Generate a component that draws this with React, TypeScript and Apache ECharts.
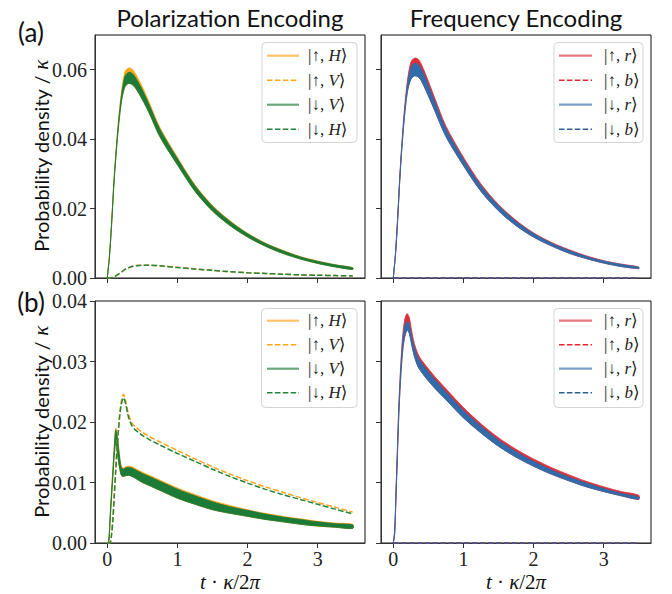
import React, { useEffect, useRef } from 'react';
import * as echarts from 'echarts';

// ---------- data ----------
const T_A = [0, 0.03, 0.06, 0.1, 0.15, 0.2, 0.25, 0.3, 0.35, 0.4, 0.5, 0.6, 0.75, 1.0, 1.25, 1.5, 1.75, 2.0, 2.25, 2.5, 2.75, 3.0, 3.25, 3.5];
const T_B = [0, 0.02, 0.04, 0.06, 0.08, 0.1, 0.12, 0.14, 0.16, 0.18, 0.2, 0.23, 0.26, 0.3, 0.35, 0.4, 0.5, 0.6, 0.75, 1.0, 1.25, 1.5, 1.75, 2.0, 2.25, 2.5, 2.75, 3.0, 3.25, 3.5];

// (a) Polarization encoding
const POL_A_DOWN_V_LO = [0, 0.0058, 0.0146, 0.0286, 0.0414, 0.0505, 0.0550, 0.0560, 0.0558, 0.0548, 0.0514, 0.0474, 0.0407, 0.0326, 0.0250, 0.0193, 0.0151, 0.0118, 0.0092, 0.0071, 0.0055, 0.0042, 0.0032, 0.00245];
const POL_A_DOWN_V_HI = [0, 0.0062, 0.0154, 0.0294, 0.0426, 0.0523, 0.0580, 0.0592, 0.0590, 0.0578, 0.0542, 0.0498, 0.0429, 0.0344, 0.0266, 0.0207, 0.0163, 0.0128, 0.0100, 0.0079, 0.0061, 0.0048, 0.0038, 0.00295];
const POL_A_UP_H_HI = [0, 0.0063, 0.0156, 0.0297, 0.0432, 0.0532, 0.0593, 0.0605, 0.0602, 0.0589, 0.0551, 0.0505, 0.0434, 0.0348, 0.0269, 0.0209, 0.0165, 0.0129, 0.0101, 0.0080, 0.0062, 0.0049, 0.0038, 0.0030];
const POL_A_UP_V = [0, 0, 0.0001, 0.0004, 0.0010, 0.0017, 0.0024, 0.0029, 0.0033, 0.0036, 0.0037, 0.0037, 0.0035, 0.0031, 0.0026, 0.0022, 0.0018, 0.0015, 0.0013, 0.0011, 0.0009, 0.0008, 0.0007, 0.0006];
const POL_A_DOWN_H = [0, 0, 0.0001, 0.0004, 0.0010, 0.0017, 0.0024, 0.0029, 0.0033, 0.0035, 0.0037, 0.0037, 0.0035, 0.0030, 0.0026, 0.0022, 0.0018, 0.0015, 0.0013, 0.0011, 0.0009, 0.0008, 0.0007, 0.0006];

// (a) Frequency encoding
const FRQ_A_DOWN_R_LO = [0, 0.0063, 0.0156, 0.0306, 0.0444, 0.0535, 0.0572, 0.0582, 0.0580, 0.0568, 0.0525, 0.0478, 0.0408, 0.0324, 0.0250, 0.0194, 0.0151, 0.0118, 0.0093, 0.0072, 0.0056, 0.0043, 0.0033, 0.0027];
const FRQ_A_DOWN_R_HI = [0, 0.0067, 0.0164, 0.0314, 0.0456, 0.0555, 0.0606, 0.0618, 0.0616, 0.0602, 0.0555, 0.0504, 0.0430, 0.0342, 0.0266, 0.0208, 0.0163, 0.0128, 0.0101, 0.0080, 0.0062, 0.0049, 0.0039, 0.0031];
const FRQ_A_UP_R_HI = [0, 0.0068, 0.0167, 0.0318, 0.0463, 0.0566, 0.0621, 0.0633, 0.0631, 0.0616, 0.0567, 0.0514, 0.0438, 0.0348, 0.0271, 0.0212, 0.0166, 0.0130, 0.0103, 0.0082, 0.0064, 0.0050, 0.0040, 0.0032];
const FRQ_DASH_T = [0, 3.5];
const FRQ_DASH_ZERO = [0, 0];

// (b) Polarization encoding
const POL_B_DOWN_V_LO = [0, 0, 0.0036, 0.0074, 0.0110, 0.0145, 0.0165, 0.0152, 0.0135, 0.0121, 0.0112, 0.0110, 0.0111, 0.0112, 0.0110, 0.0107, 0.0100, 0.0095, 0.0087, 0.0074, 0.0064, 0.0055, 0.0049, 0.0044, 0.0039, 0.0035, 0.0031, 0.0028, 0.0026, 0.0024];
const POL_B_DOWN_V_HI = [0, 0.0003, 0.0042, 0.0082, 0.0120, 0.0158, 0.0187, 0.0178, 0.0158, 0.0138, 0.0125, 0.0122, 0.0124, 0.0125, 0.0124, 0.0121, 0.0115, 0.0110, 0.0102, 0.0089, 0.0078, 0.0068, 0.0060, 0.0054, 0.0048, 0.0043, 0.0039, 0.0035, 0.0032, 0.0030];
const POL_B_UP_H_HI = [0, 0.0004, 0.0044, 0.0085, 0.0123, 0.0161, 0.0190, 0.0181, 0.0161, 0.0140, 0.0127, 0.0124, 0.0126, 0.0127, 0.0126, 0.0123, 0.0117, 0.0112, 0.0104, 0.0091, 0.0080, 0.0070, 0.0062, 0.0055, 0.0049, 0.0044, 0.0040, 0.0036, 0.0033, 0.0031];
const POL_B_UP_V = [0, 0, 0, 0.0015, 0.0042, 0.0082, 0.0123, 0.0160, 0.0192, 0.0217, 0.0234, 0.0246, 0.0236, 0.0214, 0.0199, 0.0192, 0.0183, 0.0176, 0.0167, 0.0153, 0.0139, 0.0126, 0.0114, 0.0103, 0.0093, 0.0084, 0.0075, 0.0067, 0.0059, 0.0051];
const POL_B_DOWN_H = [0, 0, 0, 0.0012, 0.0038, 0.0077, 0.0118, 0.0155, 0.0187, 0.0212, 0.0229, 0.0240, 0.0231, 0.0209, 0.0194, 0.0187, 0.0178, 0.0171, 0.0162, 0.0148, 0.0135, 0.0122, 0.0110, 0.0099, 0.0089, 0.0080, 0.0072, 0.0064, 0.0056, 0.0048];

// (b) Frequency encoding
const FRQ_B_DOWN_R_LO = [0, 0.0015, 0.0080, 0.0148, 0.0214, 0.0262, 0.0298, 0.0324, 0.0339, 0.0348, 0.0352, 0.0346, 0.0329, 0.0309, 0.0292, 0.0283, 0.0268, 0.0255, 0.0237, 0.0207, 0.0182, 0.0160, 0.0142, 0.0127, 0.0114, 0.0103, 0.0093, 0.0085, 0.0078, 0.0072];
const FRQ_B_DOWN_R_HI = [0, 0.0019, 0.0088, 0.0157, 0.0226, 0.0275, 0.0313, 0.0340, 0.0355, 0.0363, 0.0366, 0.0360, 0.0343, 0.0323, 0.0307, 0.0298, 0.0283, 0.0269, 0.0250, 0.0219, 0.0193, 0.0170, 0.0151, 0.0135, 0.0121, 0.0109, 0.0099, 0.0090, 0.0082, 0.0076];
const FRQ_B_UP_R_HI = [0, 0.0020, 0.0090, 0.0160, 0.0230, 0.0280, 0.0320, 0.0350, 0.0367, 0.0376, 0.0379, 0.0372, 0.0352, 0.0330, 0.0313, 0.0303, 0.0288, 0.0274, 0.0255, 0.0224, 0.0197, 0.0174, 0.0155, 0.0139, 0.0125, 0.0113, 0.0102, 0.0093, 0.0085, 0.0079];

// axes
const X_TICKS = [0, 1, 2, 3];
const Y_TICKS_A = [0, 0.02, 0.04, 0.06];
const Y_TICKS_B = [0, 0.01, 0.02, 0.03, 0.04];
const X_RANGE = [-0.175, 3.675];
const Y_MAX_A = 0.07;
const Y_MAX_B = 0.04;

// labels
const TITLES = ['Polarization Encoding', 'Frequency Encoding'];
const PANEL_TAGS = ['(a)', '(b)'];
const POL_NAMES = ['|↑,H⟩', '|↑,V⟩', '|↓,V⟩', '|↓,H⟩'];
const FRQ_NAMES = ['|↑,r⟩', '|↑,b⟩', '|↓,r⟩', '|↓,b⟩'];
const POL_RICH = ['|↑, {i|H}⟩', '|↑, {i|V}⟩', '|↓, {i|V}⟩', '|↓, {i|H}⟩'];
const FRQ_RICH = ['|↑, {i|r}⟩', '|↑, {i|b}⟩', '|↓, {i|r}⟩', '|↓, {i|b}⟩'];

// ---------- styles ----------
const SANS = 'Lato, DejaVu Sans, sans-serif';
const SERIF = 'Liberation Serif, DejaVu Serif, serif';
const ORANGE = '#ffa31a';
const GREEN = '#1b7b37';
const GREEN_D = '#23853d';
const RED = '#dc2f3b';
const RED_D = '#e8262f';
const BLUE = '#2f6ca9';
const BLUE_D = '#2c5f96';
const DASH = [5.5, 2.4];
const SMOOTH = 0.3;

const POL_COLORS = [ORANGE, ORANGE, GREEN, GREEN_D];
const FRQ_COLORS = [RED, RED_D, BLUE, BLUE_D];
const DASHED = [false, true, false, true];

// band between a lower and an upper envelope, drawn as one polygon through the axes' scales
function band(name: string, g: number, t: number[], lo: number[], hi: number[], color: string) {
  return {
    name, type: 'custom', xAxisIndex: g, yAxisIndex: g, silent: true, clip: true,
    data: t.map((x, i) => [x, lo[i], hi[i]]),
    encode: { x: 0, y: [1, 2] },
    renderItem: (params: any, api: any) => {
      if (params.dataIndexInside !== 0) return null;
      const top = t.map((x, i) => api.coord([x, hi[i]]));
      const bot = t.map((x, i) => api.coord([x, lo[i]])).reverse();
      return {
        type: 'polygon',
        shape: { points: top.concat(bot), smooth: SMOOTH },
        style: { fill: color, stroke: color, lineWidth: 0.8 },
      };
    },
  };
}

function dashed(name: string, g: number, t: number[], v: number[], color: string, z = 2) {
  return {
    name, type: 'line', xAxisIndex: g, yAxisIndex: g, smooth: SMOOTH, symbol: 'none', silent: true, clip: false, z,
    data: t.map((x, i) => [x, v[i]]),
    lineStyle: { color, width: 1.5, type: DASH },
  };
}

const GRIDS = [
  { left: 95, top: 35, width: 270, height: 243 },
  { left: 381, top: 35, width: 270, height: 243 },
  { left: 95, top: 301, width: 270, height: 242 },
  { left: 381, top: 301, width: 270, height: 242 },
];

function xAxisFor(g: number, labels: boolean) {
  return {
    type: 'value', gridIndex: g, min: X_RANGE[0], max: X_RANGE[1],
    axisLine: { show: true, onZero: false, lineStyle: { color: '#333', width: 1 } },
    axisTick: { show: true, customValues: X_TICKS, length: 5, lineStyle: { color: '#333', width: 1 } },
    axisLabel: { show: labels, customValues: X_TICKS, margin: 6, fontFamily: SERIF, fontSize: 20, color: '#222', formatter: (v: number) => String(v) },
    splitLine: { show: false },
  };
}

function yAxisFor(g: number, max: number, ticks: number[], labels: boolean) {
  return {
    type: 'value', gridIndex: g, min: 0, max,
    axisLine: { show: true, onZero: false, lineStyle: { color: '#333', width: 1 } },
    axisTick: { show: true, customValues: ticks, length: 5, lineStyle: { color: '#333', width: 1 } },
    axisLabel: { show: labels, customValues: ticks, margin: 8, fontFamily: SERIF, fontSize: 20, color: '#222', formatter: (v: number) => v.toFixed(2) },
    splitLine: { show: false },
  };
}

const LEGENDS = [
  { x: 262, y: 42.5, w: 95, h: 100, lineX: 267, lineW: 32, textX: 308, row0: 55.7, step: 24.5, rich: POL_RICH, colors: POL_COLORS },
  { x: 554, y: 42.5, w: 89, h: 100, lineX: 559, lineW: 33, textX: 604, row0: 55.7, step: 24.5, rich: FRQ_RICH, colors: FRQ_COLORS },
  { x: 261.5, y: 308.5, w: 95.5, h: 99, lineX: 267, lineW: 32, textX: 308, row0: 320.7, step: 24, rich: POL_RICH, colors: POL_COLORS },
  { x: 554, y: 308.5, w: 89, h: 99, lineX: 559, lineW: 33, textX: 604, row0: 320.7, step: 24, rich: FRQ_RICH, colors: FRQ_COLORS },
];

function legendGraphics() {
  const out: any[] = [];
  LEGENDS.forEach((L) => {
    out.push({
      type: 'rect', z: 100,
      shape: { x: L.x, y: L.y, width: L.w, height: L.h, r: 4 },
      style: { fill: 'rgba(255,255,255,0.85)', stroke: '#d4d4d4', lineWidth: 1 },
    });
    L.rich.forEach((txt, i) => {
      const yy = L.row0 + i * L.step;
      out.push({
        type: 'line', z: 101,
        shape: { x1: L.lineX, y1: yy, x2: L.lineX + L.lineW, y2: yy },
        style: DASHED[i]
          ? { stroke: L.colors[i], lineWidth: 1.5, lineDash: DASH }
          : { stroke: L.colors[i], lineWidth: 2.2, opacity: 0.65 },
      });
      out.push({
        type: 'text', z: 101, x: L.textX, y: yy,
        style: {
          text: txt, fontFamily: SERIF, fontSize: 17, fill: '#222', align: 'left', verticalAlign: 'middle',
          rich: { i: { fontFamily: SERIF, fontStyle: 'italic', fontSize: 17, fill: '#222' } },
        },
      });
    });
  });
  return out;
}

function textGraphics() {
  const out: any[] = [];
  [230, 516].forEach((cx, i) => {
    out.push({
      type: 'text', x: cx, y: 17,
      style: { text: TITLES[i], fontFamily: SANS, fontSize: 24, fill: '#111', align: 'center', verticalAlign: 'middle' },
    });
    out.push({
      type: 'text', x: cx, y: 582,
      style: {
        text: '{i|t} · {i|κ}/2{i|π}', fontFamily: SERIF, fontSize: 21, fill: '#111', align: 'center', verticalAlign: 'middle',
        rich: { i: { fontFamily: SERIF, fontStyle: 'italic', fontSize: 21, fill: '#111' } },
      },
    });
  });
  [32, 302].forEach((cy, i) => {
    out.push({
      type: 'text', x: 31, y: cy,
      style: { text: PANEL_TAGS[i], fontFamily: SANS, fontSize: 26, fill: '#111', align: 'center', verticalAlign: 'middle' },
    });
  });
  [156, 422].forEach((cy) => {
    out.push({
      type: 'text', x: 41, y: cy, rotation: Math.PI / 2,
      style: {
        text: '{s|Probability density / }{k|κ}', align: 'center', verticalAlign: 'middle',
        rich: {
          s: { fontFamily: SANS, fontSize: 20, fill: '#111' },
          k: { fontFamily: SERIF, fontStyle: 'italic', fontSize: 21, fill: '#111' },
        },
      },
    });
  });
  return out;
}

const series: any[] = [
  // (a) polarization
  band(POL_NAMES[0], 0, T_A, POL_A_DOWN_V_LO, POL_A_UP_H_HI, ORANGE),
  band(POL_NAMES[2], 0, T_A, POL_A_DOWN_V_LO, POL_A_DOWN_V_HI, GREEN),
  dashed(POL_NAMES[1], 0, T_A, POL_A_UP_V, ORANGE),
  dashed(POL_NAMES[3], 0, T_A, POL_A_DOWN_H, GREEN_D),
  // (a) frequency
  band(FRQ_NAMES[0], 1, T_A, FRQ_A_DOWN_R_LO, FRQ_A_UP_R_HI, RED),
  band(FRQ_NAMES[2], 1, T_A, FRQ_A_DOWN_R_LO, FRQ_A_DOWN_R_HI, BLUE),
  dashed(FRQ_NAMES[1], 1, FRQ_DASH_T, FRQ_DASH_ZERO, RED_D, 10),
  dashed(FRQ_NAMES[3], 1, FRQ_DASH_T, FRQ_DASH_ZERO, BLUE_D, 11),
  // (b) polarization
  band(POL_NAMES[0], 2, T_B, POL_B_DOWN_V_LO, POL_B_UP_H_HI, ORANGE),
  band(POL_NAMES[2], 2, T_B, POL_B_DOWN_V_LO, POL_B_DOWN_V_HI, GREEN),
  dashed(POL_NAMES[1], 2, T_B, POL_B_UP_V, ORANGE),
  dashed(POL_NAMES[3], 2, T_B, POL_B_DOWN_H, GREEN_D),
  // (b) frequency
  band(FRQ_NAMES[0], 3, T_B, FRQ_B_DOWN_R_LO, FRQ_B_UP_R_HI, RED),
  band(FRQ_NAMES[2], 3, T_B, FRQ_B_DOWN_R_LO, FRQ_B_DOWN_R_HI, BLUE),
  dashed(FRQ_NAMES[1], 3, FRQ_DASH_T, FRQ_DASH_ZERO, RED_D, 10),
  dashed(FRQ_NAMES[3], 3, FRQ_DASH_T, FRQ_DASH_ZERO, BLUE_D, 11),
];

const option: any = {
  animation: false,
  backgroundColor: '#ffffff',
  grid: GRIDS.map((g) => ({ ...g, show: true, borderColor: '#111', borderWidth: 1, backgroundColor: 'transparent' })),
  xAxis: [xAxisFor(0, false), xAxisFor(1, false), xAxisFor(2, true), xAxisFor(3, true)],
  yAxis: [
    yAxisFor(0, Y_MAX_A, Y_TICKS_A, true),
    yAxisFor(1, Y_MAX_A, Y_TICKS_A, false),
    yAxisFor(2, Y_MAX_B, Y_TICKS_B, true),
    yAxisFor(3, Y_MAX_B, Y_TICKS_B, false),
  ],
  series,
  graphic: [...textGraphics(), ...legendGraphics()],
};

export default function App() {
  const ref = useRef<HTMLDivElement>(null);
  useEffect(() => {
    const chart = echarts.init(ref.current!, undefined, { renderer: 'svg' });
    chart.setOption(option);
    return () => chart.dispose();
  }, []);
  return (
    <div
      ref={ref}
      style={{ position: 'absolute', left: 0, top: 0, width: 672, height: 594, background: '#fff' }}
    />
  );
}
